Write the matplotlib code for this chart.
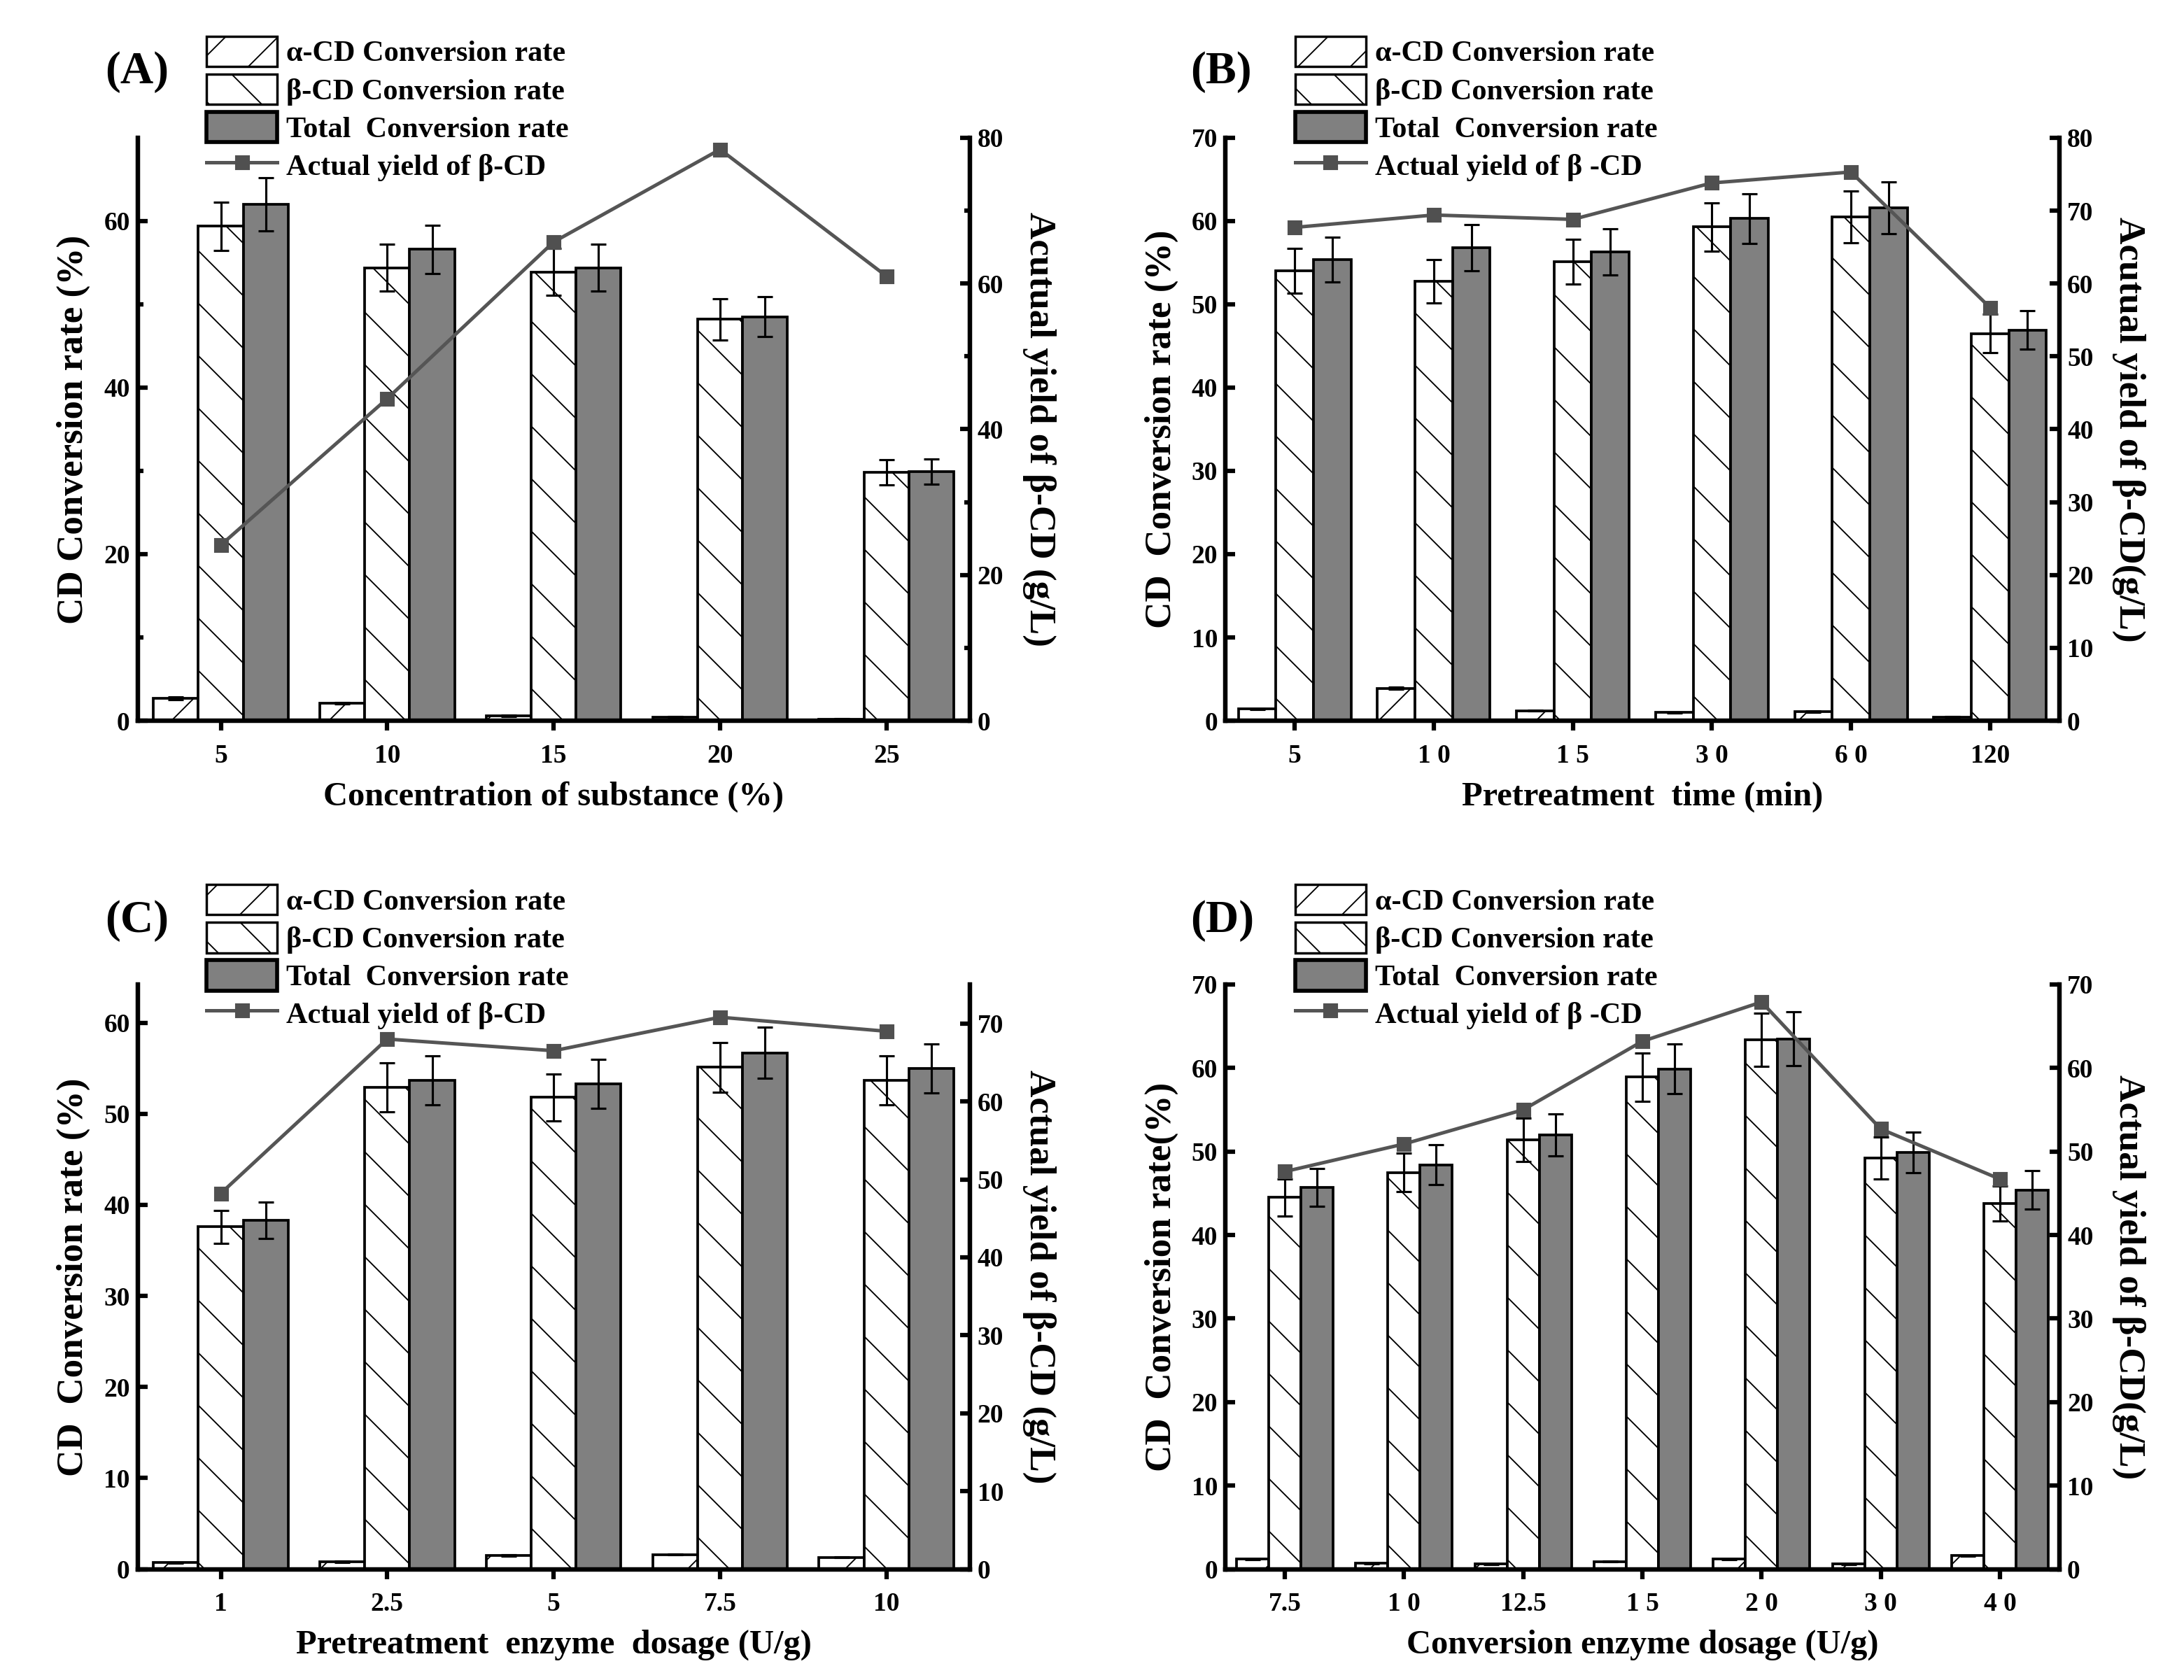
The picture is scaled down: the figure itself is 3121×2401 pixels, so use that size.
import numpy as np
import matplotlib
matplotlib.use('Agg')
import matplotlib.pyplot as plt
from matplotlib.patches import Patch
from matplotlib.lines import Line2D

# ================== DATA ==================

# (A) substrate concentration
a_labels = ['5', '10', '15', '20', '25']
a_alpha = [2.7, 2.1, 0.6, 0.4, 0.2]
a_alpha_err = [0.15, 0.1, 0.1, 0.1, 0.05]
a_beta = [59.4, 54.4, 53.9, 48.2, 29.8]
a_beta_err = [2.9, 2.8, 2.8, 2.5, 1.5]
a_total = [62.0, 56.6, 54.4, 48.5, 29.9]
a_total_err = [3.2, 2.9, 2.8, 2.4, 1.5]
a_yield = [24.1, 44.2, 65.7, 78.4, 61.0]

# (B) pretreatment time
b_labels = ['5', '1 0', '1 5', '3 0', '6 0', '120']
b_alpha = [1.4, 3.9, 1.2, 1.0, 1.1, 0.45]
b_alpha_err = [0.05, 0.15, 0.05, 0.05, 0.05, 0.05]
b_beta = [54.0, 52.8, 55.1, 59.3, 60.5, 46.5]
b_beta_err = [2.7, 2.6, 2.7, 2.9, 3.1, 2.3]
b_total = [55.4, 56.8, 56.3, 60.3, 61.6, 46.9]
b_total_err = [2.7, 2.8, 2.8, 3.0, 3.1, 2.3]
b_yield = [67.7, 69.4, 68.8, 73.8, 75.3, 56.7]

# (C) pretreatment enzyme dosage
c_labels = ['1', '2.5', '5', '7.5', '10']
c_alpha = [0.7, 0.8, 1.5, 1.6, 1.3]
c_alpha_err = [0.05, 0.05, 0.05, 0.05, 0.05]
c_beta = [37.6, 52.9, 51.8, 55.1, 53.7]
c_beta_err = [1.8, 2.7, 2.6, 2.7, 2.7]
c_total = [38.3, 53.7, 53.3, 56.7, 55.0]
c_total_err = [2.0, 2.7, 2.7, 2.8, 2.7]
c_yield = [48.2, 68.0, 66.5, 70.8, 69.0]

# (D) conversion enzyme dosage
d_labels = ['7.5', '1 0', '12.5', '1 5', '2 0', '3 0', '4 0']
d_alpha = [1.2, 0.7, 0.6, 0.9, 1.2, 0.6, 1.6]
d_alpha_err = [0.05, 0.05, 0.05, 0.05, 0.05, 0.05, 0.05]
d_beta = [44.5, 47.5, 51.4, 58.9, 63.4, 49.2, 43.8]
d_beta_err = [2.2, 2.3, 2.6, 2.9, 3.2, 2.5, 2.1]
d_total = [45.7, 48.4, 52.0, 59.9, 63.5, 49.9, 45.4]
d_total_err = [2.3, 2.4, 2.5, 3.0, 3.2, 2.4, 2.3]
d_yield = [47.6, 50.9, 55.0, 63.2, 67.9, 52.7, 46.7]

# ================== STYLE ==================

plt.rcParams['font.family'] = ['Liberation Serif', 'DejaVu Serif']
plt.rcParams['font.weight'] = 'bold'
plt.rcParams['axes.labelweight'] = 'bold'
plt.rcParams['hatch.linewidth'] = 0.6
plt.rcParams['axes.linewidth'] = 2.0

BAR_W = 0.27
GREY = '#808080'
LINE_C = '#555555'
TICK_FS = 12
XLABEL_FS = 15.5
YLABEL_FS = 17
LEGEND_FS = 13.5


def draw_panel(fig, rect, tag, labels, alpha, alpha_err, beta, beta_err,
               total, total_err, yld, xlabel, ylabel, ylabel2, line_label,
               ylim, yticks, ylim2, yticks2, minor=None, minor2=None,
               legend_xy=(0.0945, 0.98), tag_xy=(0.048, 0.957)):
    ax = fig.add_axes(rect)
    x = np.arange(len(labels))
    ekw = dict(elinewidth=1.0, capthick=1.0, ecolor='black')

    ax.bar(x - BAR_W, alpha, BAR_W, yerr=alpha_err, capsize=3.5,
           color='white', edgecolor='black', linewidth=1.2, hatch='/',
           error_kw=ekw)
    ax.bar(x, beta, BAR_W, yerr=beta_err, capsize=3.5,
           color='white', edgecolor='black', linewidth=1.2, hatch='\\',
           error_kw=ekw)
    ax.bar(x + BAR_W, total, BAR_W, yerr=total_err, capsize=3.5,
           color=GREY, edgecolor='black', linewidth=1.2, error_kw=ekw)

    ax.set_xlim(-0.5, len(labels) - 0.5)
    ax.set_ylim(*ylim)
    ax.set_yticks(yticks)
    if minor is not None:
        ax.set_yticks(minor, minor=True)
    ax.set_xticks(x)
    ax.set_xticklabels(labels)
    ax.tick_params(axis='x', direction='out', length=4.5, width=2.0,
                   labelsize=TICK_FS, pad=6)
    ax.tick_params(axis='y', which='major', direction='in', length=4.5,
                   width=2.0, labelsize=TICK_FS)
    ax.tick_params(axis='y', which='minor', direction='in', length=2.5,
                   width=2.0)
    ax.set_xlabel(xlabel, fontsize=XLABEL_FS, labelpad=6)
    ax.set_ylabel(ylabel, fontsize=YLABEL_FS, labelpad=6)
    ax.spines['top'].set_visible(False)

    ax2 = ax.twinx()
    ax2.plot(x, yld, color=LINE_C, linewidth=1.6, marker='s',
             markersize=5.5, markerfacecolor='#505050',
             markeredgecolor='#505050')
    ax2.set_ylim(*ylim2)
    ax2.set_yticks(yticks2)
    if minor2 is not None:
        ax2.set_yticks(minor2, minor=True)
    ax2.tick_params(axis='y', which='major', direction='in', length=4.5,
                    width=2.0, labelsize=TICK_FS)
    ax2.tick_params(axis='y', which='minor', direction='in', length=2.5,
                    width=2.0)
    ax2.set_ylabel(ylabel2, fontsize=YLABEL_FS, rotation=270, labelpad=24)
    for sp in ax2.spines.values():
        sp.set_linewidth(2.0)
    ax2.spines['top'].set_visible(False)

    handles = [
        Patch(facecolor='white', edgecolor='black', hatch='/', linewidth=1.1),
        Patch(facecolor='white', edgecolor='black', hatch='\\', linewidth=1.1),
        Patch(facecolor=GREY, edgecolor='black', linewidth=1.8),
        Line2D([], [], color=LINE_C, linewidth=1.6, marker='s',
               markersize=5.5, markerfacecolor='#505050',
               markeredgecolor='#505050'),
    ]
    names = ['α-CD Conversion rate', 'β-CD Conversion rate',
             'Total  Conversion rate', line_label]
    fig.legend(handles, names, loc='upper left', bbox_to_anchor=legend_xy,
               bbox_transform=fig.transFigure, frameon=False,
               fontsize=LEGEND_FS, handlelength=2.4, handleheight=1.2,
               handletextpad=0.3, labelspacing=0.22, borderpad=0,
               borderaxespad=0)

    fig.text(tag_xy[0], tag_xy[1], tag, fontsize=21, fontweight='bold',
             va='center', ha='left')
    return ax, ax2


# ================== MAIN ==================

fig = plt.figure(figsize=(3121 / 225, 2401 / 225), dpi=225)

draw_panel(fig, [0.063, 0.571, 0.381, 0.347], '(A)', a_labels,
           a_alpha, a_alpha_err, a_beta, a_beta_err, a_total, a_total_err,
           a_yield, 'Concentration of substance (%)', 'CD Conversion rate (%)',
           'Acutual yield of β-CD (g/L)', 'Actual yield of β-CD',
           (0, 70), [0, 20, 40, 60], (0, 80), [0, 20, 40, 60, 80],
           minor=[10, 30, 50], minor2=[10, 30, 50, 70],
           legend_xy=(0.0945, 0.9785), tag_xy=(0.048, 0.957))

draw_panel(fig, [0.561, 0.571, 0.382, 0.347], '(B)', b_labels,
           b_alpha, b_alpha_err, b_beta, b_beta_err, b_total, b_total_err,
           b_yield, 'Pretreatment  time (min)', 'CD  Conversion rate (%)',
           'Acutual yield of β-CD(g/L)', 'Actual yield of β -CD',
           (0, 70), list(range(0, 71, 10)), (0, 80), list(range(0, 81, 10)),
           legend_xy=(0.593, 0.9785), tag_xy=(0.545, 0.957))

draw_panel(fig, [0.063, 0.066, 0.381, 0.348], '(C)', c_labels,
           c_alpha, c_alpha_err, c_beta, c_beta_err, c_total, c_total_err,
           c_yield, 'Pretreatment  enzyme  dosage (U/g)',
           'CD  Conversion rate (%)', 'Actual yield of β-CD (g/L)',
           'Actual yield of β-CD',
           (0, 64.2), list(range(0, 61, 10)), (0, 75), list(range(0, 71, 10)),
           legend_xy=(0.0945, 0.4735), tag_xy=(0.048, 0.452))

draw_panel(fig, [0.561, 0.066, 0.382, 0.348], '(D)', d_labels,
           d_alpha, d_alpha_err, d_beta, d_beta_err, d_total, d_total_err,
           d_yield, 'Conversion enzyme dosage (U/g)', 'CD  Conversion rate(%)',
           'Actual yield of β-CD(g/L)', 'Actual yield of β -CD',
           (0, 70), list(range(0, 71, 10)), (0, 70), list(range(0, 71, 10)),
           legend_xy=(0.593, 0.4735), tag_xy=(0.545, 0.452))

fig.savefig('out.png', dpi=225)
